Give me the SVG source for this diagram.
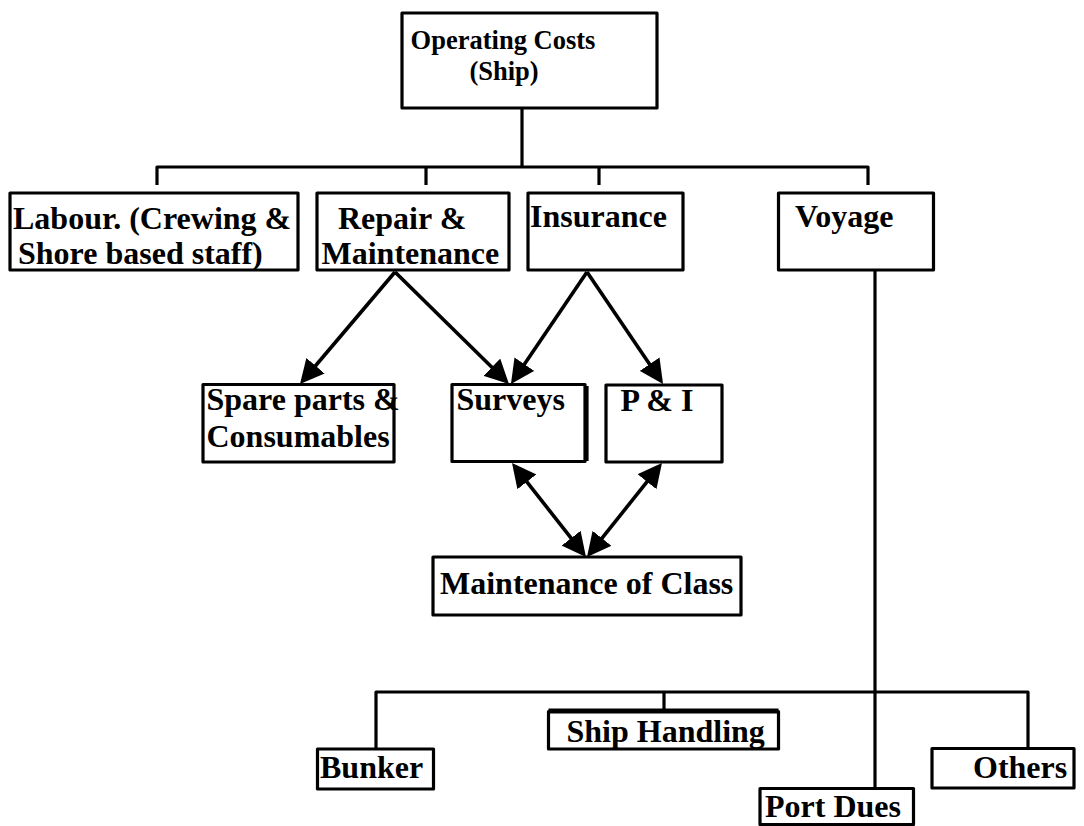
<svg xmlns="http://www.w3.org/2000/svg" width="1084" height="826" viewBox="0 0 1084 826">
  <style>
    .box { fill: #ffffff; stroke: #000000; stroke-width: 3.2; stroke-linejoin: round; }
    .line { fill: none; stroke: #000000; stroke-width: 3.2; stroke-linejoin: round; }
    .arrow { fill: none; stroke: #000000; stroke-width: 3.6; }
    .t { font-family: "Liberation Serif", "Times New Roman", serif; font-weight: bold; font-size: 32px; fill: #000000; }
    .ts { font-size: 26.5px; }
  </style>
  <defs>
    <marker id="ah" viewBox="0 0 24 24" refX="20" refY="12" markerWidth="24" markerHeight="24" markerUnits="userSpaceOnUse" orient="auto-start-reverse">
      <path d="M0,0 L24,12 L0,24 z" fill="#000000"/>
    </marker>
  </defs>
  <rect width="1084" height="826" fill="#ffffff"/>

  <g id="connectors">
    <path class="line" d="M522,108 V167"/>
    <path class="line" d="M157,185 V167 H868 V185"/>
    <path class="line" d="M426,167 V185"/>
    <path class="line" d="M599,167 V185"/>
    <path class="line" d="M875,270 V788"/>
    <path class="line" d="M376,749 V692 H1028 V748"/>
    <path class="line" d="M664,692 V711"/>
    <path class="arrow" d="M395,272 L302.6,381" marker-end="url(#ah)"/>
    <path class="arrow" d="M395,272 L506.1,381.2" marker-end="url(#ah)"/>
    <path class="arrow" d="M587,272 L513.2,380.7" marker-end="url(#ah)"/>
    <path class="arrow" d="M587,272 L660.8,380.7" marker-end="url(#ah)"/>
    <path class="arrow" d="M514.5,466.1 L583.5,553.9" marker-start="url(#ah)" marker-end="url(#ah)"/>
    <path class="arrow" d="M659.5,466.1 L589.5,553.9" marker-start="url(#ah)" marker-end="url(#ah)"/>
  </g>

  <g id="node-operating-costs">
    <rect class="box" x="402" y="13" width="255" height="95"/>
    <text class="t ts" x="503" y="49" text-anchor="middle">Operating Costs</text>
    <text class="t ts" x="504" y="80" text-anchor="middle">(Ship)</text>
  </g>
  <g id="node-labour">
    <rect class="box" x="10" y="193" width="288" height="77"/>
    <text class="t" x="13" y="228.5">Labour. (Crewing &amp;</text>
    <text class="t" x="18" y="264">Shore based staff)</text>
  </g>
  <g id="node-repair">
    <rect class="box" x="317" y="193" width="192" height="77"/>
    <text class="t" x="338" y="228.5">Repair &amp;</text>
    <text class="t" x="321.5" y="264">Maintenance</text>
  </g>
  <g id="node-insurance">
    <rect class="box" x="528" y="193" width="155" height="77"/>
    <text class="t" x="530" y="227">Insurance</text>
  </g>
  <g id="node-voyage">
    <rect class="box" x="778.5" y="193" width="155" height="77"/>
    <text class="t" x="795" y="227">Voyage</text>
  </g>
  <g id="node-spare-parts">
    <rect class="box" x="203" y="384.5" width="191" height="77.5"/>
    <text class="t" x="206.5" y="410">Spare parts &amp;</text>
    <text class="t" x="206.5" y="447">Consumables</text>
  </g>
  <g id="node-surveys">
    <rect class="box" x="452" y="384.5" width="133" height="77"/>
    <path class="line" d="M587,386 V461"/>
    <text class="t" x="456.5" y="410">Surveys</text>
  </g>
  <g id="node-pi">
    <rect class="box" x="606" y="385" width="116" height="77"/>
    <text class="t" x="620.5" y="410.5">P &amp; I</text>
  </g>
  <g id="node-maintenance-of-class">
    <rect class="box" x="433" y="557" width="308" height="58"/>
    <text class="t" x="440" y="594">Maintenance of Class</text>
  </g>
  <g id="node-ship-handling">
    <rect class="box" x="548.5" y="711.5" width="230" height="37.5"/>
    <path d="M548.5,711 H778.5" fill="none" stroke="#000000" stroke-width="5"/>
    <text class="t" x="566.5" y="741.5">Ship Handling</text>
  </g>
  <g id="node-bunker">
    <rect class="box" x="317.5" y="749" width="116" height="40"/>
    <text class="t" x="320" y="778">Bunker</text>
  </g>
  <g id="node-port-dues">
    <rect class="box" x="760" y="788.5" width="153.5" height="36"/>
    <text class="t" x="765" y="817">Port Dues</text>
  </g>
  <g id="node-others">
    <rect class="box" x="932" y="748.5" width="142" height="39.5"/>
    <text class="t" x="973" y="778">Others</text>
  </g>
</svg>
